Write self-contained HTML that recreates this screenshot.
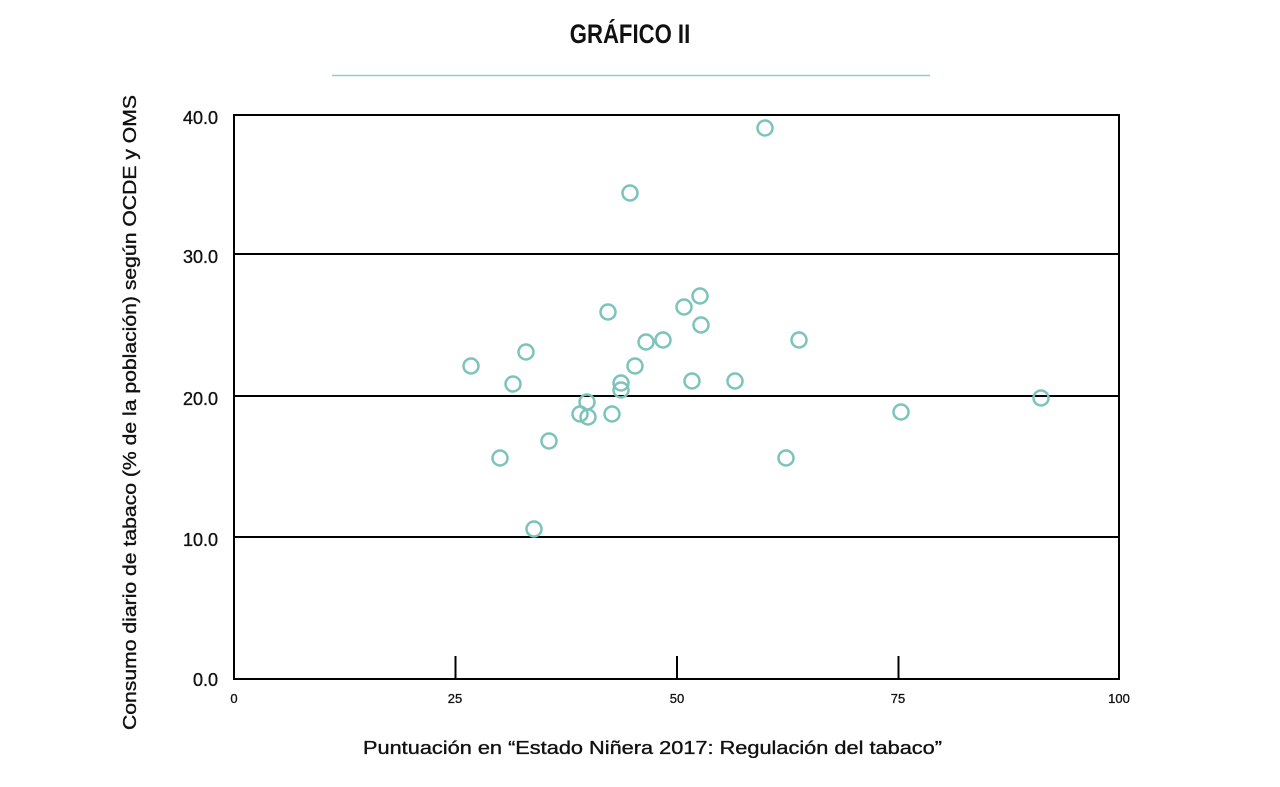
<!DOCTYPE html>
<html><head><meta charset="utf-8"><style>
html,body{margin:0;padding:0;background:#fff;}
svg{display:block;font-family:"Liberation Sans",sans-serif;}
</style></head><body>
<svg width="1280" height="787" viewBox="0 0 1280 787" xmlns="http://www.w3.org/2000/svg">
<text x="630" y="43" text-anchor="middle" font-size="27" font-weight="bold" fill="#111" transform="translate(630,0) scale(0.82,1) translate(-630,0)">GRÁFICO II</text>
<line x1="332" y1="75.5" x2="930" y2="75.5" stroke="#8fcfc6" stroke-width="1.5"/>
<rect x="234" y="115" width="885" height="564" fill="none" stroke="#000" stroke-width="2"/>
<g stroke="#000" stroke-width="2">
<line x1="234" y1="254" x2="1119" y2="254"/>
<line x1="234" y1="396" x2="1119" y2="396"/>
<line x1="234" y1="537" x2="1119" y2="537"/>
<line x1="455.5" y1="656" x2="455.5" y2="679"/>
<line x1="677" y1="656" x2="677" y2="679"/>
<line x1="898.5" y1="656" x2="898.5" y2="679"/>
</g>
<g font-size="18" fill="#111" stroke="#111" stroke-width="0.35" text-anchor="end">
<text x="218" y="124">40.0</text>
<text x="218" y="263">30.0</text>
<text x="218" y="405">20.0</text>
<text x="218" y="546">10.0</text>
<text x="218" y="686">0.0</text>
</g>
<g font-size="13" fill="#111" stroke="#111" stroke-width="0.3" text-anchor="middle">
<text x="234" y="703">0</text>
<text x="455" y="703">25</text>
<text x="677" y="703">50</text>
<text x="898" y="703">75</text>
<text x="1119" y="703">100</text>
</g>
<text x="363" y="754" font-size="18" fill="#111" stroke="#111" stroke-width="0.35" textLength="579" lengthAdjust="spacingAndGlyphs">Puntuación en “Estado Niñera 2017: Regulación del tabaco”</text>
<text transform="translate(136,730) rotate(-90)" font-size="18" fill="#111" stroke="#111" stroke-width="0.35" textLength="635" lengthAdjust="spacingAndGlyphs">Consumo diario de tabaco (% de la población) según OCDE y OMS</text>
<g fill="none" stroke="#7cc4ba" stroke-width="2.5">
<circle cx="471" cy="366" r="7.5"/><circle cx="513" cy="384" r="7.5"/><circle cx="526" cy="352" r="7.5"/>
<circle cx="500" cy="458" r="7.5"/><circle cx="534" cy="529" r="7.5"/><circle cx="549" cy="441" r="7.5"/>
<circle cx="580" cy="414" r="7.5"/><circle cx="587" cy="402" r="7.5"/><circle cx="588" cy="417" r="7.5"/>
<circle cx="608" cy="312" r="7.5"/><circle cx="612" cy="414" r="7.5"/><circle cx="621" cy="383" r="7.5"/>
<circle cx="621" cy="390" r="7.5"/><circle cx="630" cy="193" r="7.5"/><circle cx="635" cy="366" r="7.5"/>
<circle cx="646" cy="342" r="7.5"/><circle cx="663" cy="340" r="7.5"/><circle cx="684" cy="307" r="7.5"/>
<circle cx="692" cy="381" r="7.5"/><circle cx="700" cy="296" r="7.5"/><circle cx="701" cy="325" r="7.5"/>
<circle cx="735" cy="381" r="7.5"/><circle cx="765" cy="128" r="7.5"/><circle cx="786" cy="458" r="7.5"/>
<circle cx="799" cy="340" r="7.5"/><circle cx="901" cy="412" r="7.5"/><circle cx="1041" cy="398" r="7.5"/>
</g>
</svg>
</body></html>
